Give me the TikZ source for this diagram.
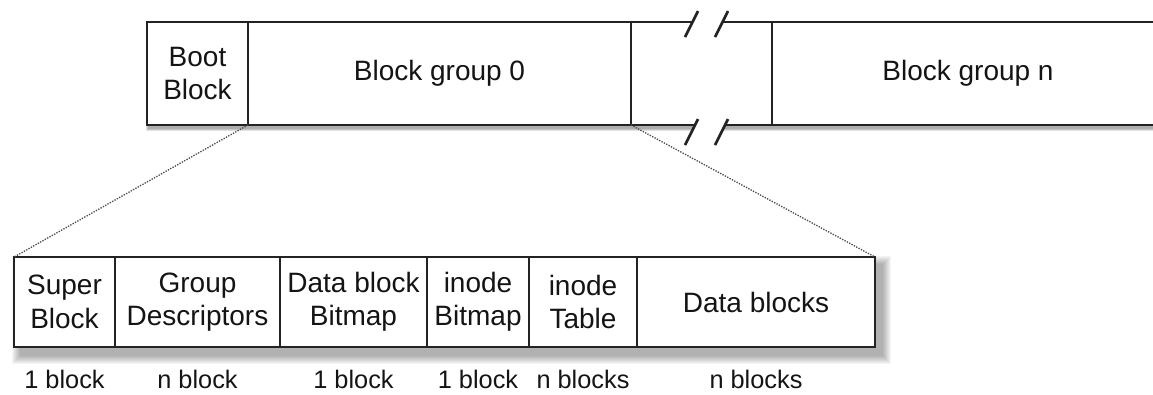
\documentclass[tikz,border=0pt]{standalone}
\usepackage{fontspec}
\setmainfont{Liberation Sans}
\usepackage{tikz}
\usetikzlibrary{positioning,backgrounds}
\tikzset{every node/.append style={align=center}}
\definecolor{frameink}{RGB}{35,35,35}
\definecolor{textink}{RGB}{20,20,20}

\begin{document}
\begin{tikzpicture}[x=0.75pt, y=-0.75pt,
  font=\fontsize{21}{25}\selectfont,
  cell/.style={draw=frameink, fill=white, line width=1.6pt,
    inner sep=0pt, outer sep=0pt, text=textink},
  topcell/.style={cell, minimum height=77.25pt},
  lowcell/.style={cell, minimum height=67.5pt},
  count/.style={inner sep=0pt, text=textink, font=\fontsize{19}{22}\selectfont},
  zoomline/.style={densely dotted, black!70, line width=1pt}]

  \useasboundingbox (0,0) rectangle (1153,394);

  % Disk strip
  \node[topcell, minimum width=75.75pt, anchor=north west] (boot)
    at (147,22) {Boot\\Block};
  \node[topcell, minimum width=287.25pt, right=0pt of boot] (group0)
    {Block group 0};
  \node[topcell, minimum width=105.75pt, right=0pt of group0] (skip) {};
  \node[topcell, minimum width=294pt, right=0pt of skip] (groupn)
    {Block group n};

  % Layout of one block group
  \node[lowcell, minimum width=75.75pt, anchor=north west] (super)
    at (14,257) {Super\\Block};
  \node[lowcell, minimum width=123.75pt, right=0pt of super] (gdesc)
    {Group\\Descriptors};
  \node[lowcell, minimum width=110.25pt, right=0pt of gdesc] (dbmap)
    {Data block\\Bitmap};
  \node[lowcell, minimum width=76.5pt, right=0pt of dbmap] (imap)
    {inode\\Bitmap};
  \node[lowcell, minimum width=81pt, right=0pt of imap] (itable)
    {inode\\Table};
  \node[lowcell, minimum width=178.5pt, right=0pt of itable] (dblocks)
    {Data blocks};

  % Sizes
  \node[count, below=17pt of super] (nsuper) {1 block};
  \node[count, below=17pt of gdesc] (ngdesc) {n block};
  \node[count, below=17pt of dbmap] (ndbmap) {1 block};
  \node[count, below=17pt of imap] (nimap) {1 block};
  \node[count, below=17pt of itable] (nitable) {n blocks};
  \node[count, below=17pt of dblocks] (ndblocks) {n blocks};

  % Soft shadows
  \begin{scope}[on background layer]
    \foreach \s in {1,...,9}
      \fill[black, opacity=0.04]
        ([shift={(7-\s,8-\s)}]super.north west)
        rectangle ([shift={(7+\s,8+\s)}]dblocks.south east);
    \foreach \s in {1,...,3}
      \fill[black, opacity=0.12]
        ([shift={(2-\s,3-\s)}]boot.north west)
        rectangle ([shift={(2+\s,3+\s)}]groupn.south east);
  \end{scope}

  % Break marks
  \fill[white] (688,32) -- (696,15) -- (726,15) -- (718,32) -- cycle;
  \fill[white] (688,140) -- (697,121) -- (727,121) -- (718,140) -- cycle;
  \draw[frameink, line width=2pt] (685,37) -- (698,11) (715,37) -- (728,11);
  \draw[frameink, line width=2pt] (685,145) -- (698,119) (715,145) -- (728,119);

  % Zoom lines
  \draw[zoomline] (boot.south east) -- (super.north west);
  \draw[zoomline] (group0.south east) -- (dblocks.north east);

\end{tikzpicture}
\end{document}
